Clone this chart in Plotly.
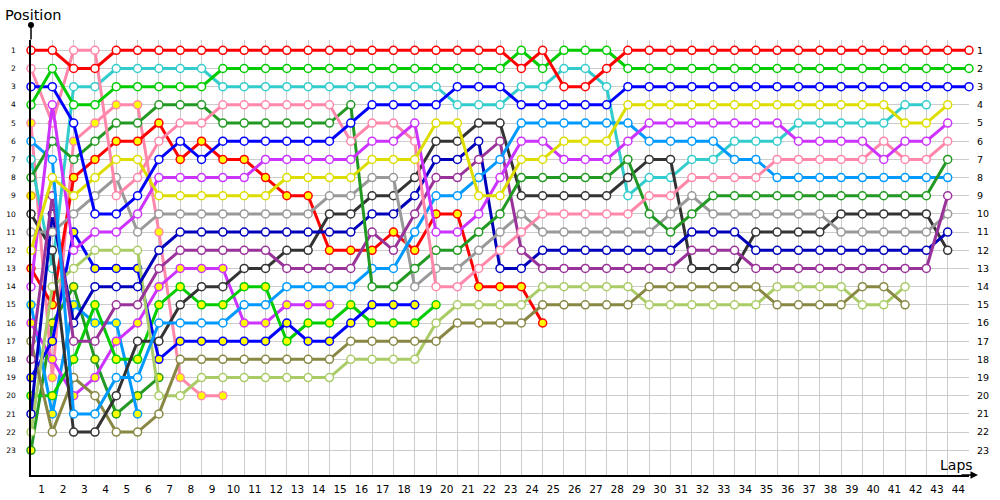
import plotly.graph_objects as go

laps = list(range(0, 45))

# positions per lap (lap 0 = grid)
red      = [1,1,2,2,1,1,1,1, 1,1,1,1,1,1,1,1,1,1,1, 1,1,1,1,2,1,3,3,2,1,1, 1,1,1,1,1,1,1,1,1,1,1,1,1,1,1]
green    = [4,2,4,4,3,3,3,3, 3,2,2,2,2,2,2,2,2,2,2, 2,2,2,2,1,2,1,1,1,2,2, 2,2,2,2,2,2,2,2,2,2,2,2,2,2,2]
blue     = [3,3,5,10,10,9,7,6, 7,6,6,6,6,6,6,5,4,4,4, 4,3,3,3,4,4,4,4,4,3,3, 3,3,3,3,3,3,3,3,3,3,3,3,3,3,3]
yellow   = [12,8,9,8,7,7,9,9, 9,9,9,9,8,8,8,8,7,7,7, 5,5,9,9,7,7,6,6,6,4,4, 4,4,4,4,4,4,4,4,4,4,4,5,5,4]
magenta  = [14,4,12,11,11,10,8,8, 8,8,8,7,7,7,7,7,6,6,5, 11,11,10,8,6,6,7,7,7,6,5, 5,5,5,5,5,5,6,6,6,6,7,6,6,5]
pink     = [2,5,1,1,9,8,6,5, 5,4,4,4,4,4,4,6,5,5,6, 14,14,13,12,11,10,10,10,10,10,9, 9,8,8,8,8,7,7,7,7,7,6,7,7,6]
dkgreen  = [8,6,7,6,5,5,4,4, 4,5,5,5,5,5,5,4,14,14,13, 12,12,11,10,8,8,8,8,8,7,10, 11,10,9,9,9,9,9,9,9,9,9,9,9,7]
skyblue  = [6,7,21,21,19,19,16,16, 16,16,15,15,14,14,14,14,13,13,11, 9,9,8,7,5,5,5,5,5,5,6, 6,6,6,7,7,8,8,8,8,8,8,8,8,8]
purple   = [18,9,17,17,15,15,13,12, 12,12,12,12,13,13,13,13,11,12,10, 8,8,7,6,12,13,13,13,13,13,13, 13,12,12,12,13,13,13,13,13,13,13,13,13,9]
gray     = [11,11,10,9,8,11,10,10, 10,10,10,10,10,10,9,9,8,8,14, 13,13,12,11,10,11,11,11,11,11,11, 10,9,10,10,10,10,10,10,11,11,11,11,11,10]
dkblue   = [21,10,16,14,14,14,12,11, 11,11,11,11,11,11,11,11,10,10,9, 7,7,6,13,13,12,12,12,12,12,12, 12,11,11,11,12,12,12,12,12,12,12,12,12,11]
black    = [10,12,22,22,20,17,17,15, 14,14,13,13,12,12,10,10,9,9,8, 6,6,5,5,9,9,9,9,9,8,7, 7,13,13,13,11,11,11,11,10,10,10,10,10,12]
cyan     = [7,13,3,3,2,2,2,2, 2,3,3,3,3,3,3,3,3,3,3, 3,4,4,4,3,3,2,2,3,9,8, 8,7,7,6,6,6,5,5,5,5,5,4,4]
olive    = [17,22,19,20,22,22,21,18, 18,18,18,18,18,18,18,17,17,17,17, 17,16,16,16,16,15,15,15,15,15,14, 14,14,14,14,14,15,15,15,15,14,14,15]
ltgreen  = [22,14,13,12,12,12,20,20, 19,19,19,19,19,19,19,18,18,18,18, 16,15,15,15,15,14,14,14,14,14,15, 15,15,15,15,15,14,14,14,14,15,15,14]
red_y    = [13,15,8,7,6,6,5,7, 6,7,7,8,9,9,12,12,12,11,12, 10,10,14,14,14,16]
blue_y   = [19,17,11,13,13,13,18,17, 17,17,17,17,16,17,17,16,15,15,15]
green_y  = [20,20,18,15,18,18,15,14, 15,15,14,14,17,16,16,15,16,16,16, 15]
mag_y    = [16,18,20,19,17,16,14,13, 13,13,16,16,15,15,15]
pink_y   = [5,19,6,5,4,4,11,19, 20,20]
sky_y    = [15,21,15,16,16,21]
dkg_y    = [23,16,14,18,21,20,19]
yel_y    = [9]

series = [
    ("red", red, "#FF0000", "white"),
    ("green", green, "#00CC00", "white"),
    ("blue", blue, "#0000FF", "white"),
    ("yellow", yellow, "#DDDD00", "white"),
    ("magenta", magenta, "#CC33FF", "white"),
    ("pink", pink, "#FF88AA", "white"),
    ("dkgreen", dkgreen, "#229922", "white"),
    ("skyblue", skyblue, "#0099FF", "white"),
    ("purple", purple, "#993399", "white"),
    ("gray", gray, "#999999", "white"),
    ("dkblue", dkblue, "#0000BB", "white"),
    ("black", black, "#333333", "white"),
    ("cyan", cyan, "#33CCCC", "white"),
    ("olive", olive, "#888844", "white"),
    ("ltgreen", ltgreen, "#AACC66", "white"),
    ("red_y", red_y, "#FF0000", "#FFFF00"),
    ("blue_y", blue_y, "#0000FF", "#FFFF00"),
    ("green_y", green_y, "#00CC00", "#FFFF00"),
    ("mag_y", mag_y, "#CC33FF", "#FFFF00"),
    ("pink_y", pink_y, "#FF88AA", "#FFFF00"),
    ("sky_y", sky_y, "#0099FF", "#FFFF00"),
    ("dkg_y", dkg_y, "#229922", "#FFFF00"),
    ("yel_y", yel_y, "#DDAA00", "#FFFF00"),
]

fig = go.Figure()
for name, pos, col, fill in reversed(series):
    fig.add_trace(go.Scatter(
        x=laps[:len(pos)], y=pos, mode="lines+markers", name=name,
        line=dict(color=col, width=3),
        marker=dict(symbol="circle", size=8, color=fill, line=dict(color=col, width=1.5)),
        cliponaxis=False, showlegend=False, hoverinfo="skip"))

# invisible trace to carry the right-hand axis
fig.add_trace(go.Scatter(x=[0], y=[1], yaxis="y2", mode="markers",
                         marker=dict(opacity=0), showlegend=False, hoverinfo="skip"))

font = "DejaVu Sans"
fig.update_layout(
    width=1000, height=500,
    margin=dict(l=31, r=31, t=40, b=25, autoexpand=False),
    paper_bgcolor="white", plot_bgcolor="white",
    font=dict(family=font, color="black"),
    xaxis=dict(range=[0, 44], tickmode="array", automargin=False,
               tickvals=[k - 0.5 for k in range(1, 45)],
               ticktext=[str(k) for k in range(1, 45)],
               showgrid=False, zeroline=False,
               ticks="outside", ticklen=4, tickcolor="rgba(0,0,0,0)",
               showline=True, linecolor="black", linewidth=1.5,
               tickfont=dict(size=10.5, family=font),
               minor=dict(tick0=0, dtick=1, showgrid=True, gridcolor="#CCCCCC", gridwidth=1)),
    yaxis=dict(range=[24.36, 0.433], tickmode="array", tickvals=list(range(1, 24)),
               automargin=False,
               showgrid=True, gridcolor="#CCCCCC", gridwidth=1, zeroline=False, ticks="",
               showline=True, linecolor="black", linewidth=1.5,
               tickfont=dict(size=7.5, family=font), ticklabelstandoff=12),
    yaxis2=dict(range=[24.36, 0.433], overlaying="y", side="right", tickmode="array",
                automargin=False,
                tickvals=list(range(1, 24)), showgrid=False, zeroline=False, ticks="",
                showline=False, tickfont=dict(size=9.5, family=font), ticklabelstandoff=7),
)

# axis arrows and titles
fig.add_annotation(x=1.0096, y=0, xref="paper", yref="paper", ax=-18, ay=0,
                   text="", showarrow=True, arrowhead=2, arrowsize=1, arrowwidth=1.5,
                   arrowcolor="black")
fig.add_annotation(x=0, y=1.0345, xref="paper", yref="paper", ax=0, ay=16,
                   text="", showarrow=True, arrowhead=6, arrowsize=1, arrowwidth=1.5,
                   arrowcolor="black")
fig.add_annotation(x=-0.0299, y=1.0575, xref="paper", yref="paper", text="Position",
                   showarrow=False, xanchor="left", yanchor="middle",
                   font=dict(size=14.5, family=font))
fig.add_annotation(x=1.0064, y=0.0230, xref="paper", yref="paper", text="Laps",
                   showarrow=False, xanchor="right", yanchor="middle",
                   font=dict(size=14, family=font))

fig.write_html("out.html", config={"displayModeBar": False},
               post_script="document.body.style.margin='0px';")
